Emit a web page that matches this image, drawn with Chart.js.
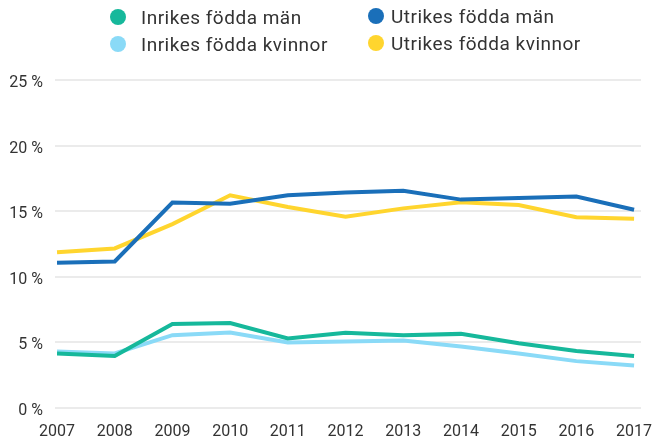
<!DOCTYPE html>
<html>
<head>
<meta charset="utf-8">
<script src="https://cdn.jsdelivr.net/npm/chart.js@4.4.1/dist/chart.umd.min.js"></script>
<style>
  html, body { margin: 0; padding: 0; background: #fff; }
  #wrap { position: relative; width: 658px; height: 436px; overflow: hidden; }
  #legend { position: absolute; left: 0; top: 0; width: 658px; height: 60px;
    font-family: Roboto, sans-serif; font-size: 19px; letter-spacing: 0.5px; color: #333; }
  .item { position: absolute; display: flex; align-items: center; white-space: nowrap; }
  .dot { width: 16px; height: 16px; border-radius: 50%; }
  canvas { position: absolute; left: 0; top: 0; }
</style>
</head>
<body>
<div id="wrap">
  <canvas id="c" width="658" height="436"></canvas>
  <div id="legend"></div>
</div>
<script>
const years = [2007, 2008, 2009, 2010, 2011, 2012, 2013, 2014, 2015, 2016, 2017];
const seriesLabels = ["Inrikes födda män", "Utrikes födda män", "Inrikes födda kvinnor", "Utrikes födda kvinnor"];
const inrikesMan = [4.12, 3.94, 6.38, 6.45, 5.27, 5.70, 5.52, 5.62, 4.91, 4.32, 3.94];
const utrikesMan = [11.05, 11.15, 15.65, 15.55, 16.2, 16.42, 16.55, 15.87, 16.0, 16.1, 15.1];
const inrikesKvinnor = [4.28, 4.12, 5.52, 5.72, 4.96, 5.04, 5.11, 4.66, 4.12, 3.54, 3.21];
const utrikesKvinnor = [11.86, 12.14, 14.0, 16.2, 15.3, 14.57, 15.2, 15.66, 15.46, 14.52, 14.4];
const yTicks = [0, 5, 10, 15, 20, 25];
const colors = ["#16B89B", "#1A6FB9", "#8ADAF7", "#FFD52E"];

const seriesValues = [inrikesMan, utrikesMan, inrikesKvinnor, utrikesKvinnor];
const datasets = seriesValues.map((vals, i) => ({
  label: seriesLabels[i],
  data: vals.map((v, j) => ({ x: years[j], y: v })),
  borderColor: colors[i],
  backgroundColor: colors[i],
  borderWidth: 4,
  pointRadius: 0,
  tension: 0,
  fill: false
}));
datasets[0].order = 1; datasets[2].order = 2; datasets[1].order = 3; datasets[3].order = 4;

const font = { family: "Roboto, sans-serif", size: 16, lineHeight: 1 };
new Chart(document.getElementById('c'), {
  type: 'line',
  data: { datasets },
  options: {
    responsive: false,
    animation: false,
    layout: { padding: { top: 80, right: 17, left: 0, bottom: 0 } },
    plugins: { legend: { display: false }, tooltip: { enabled: false } },
    scales: {
      x: {
        type: 'linear',
        min: 2006.965,
        max: 2017.12,
        afterBuildTicks: s => { s.ticks = years.map(v => ({ value: v })); },
        afterFit: s => { s.height = 28.5; s.paddingLeft = 0; s.paddingRight = 0; },
        ticks: { color: '#333', font, padding: 16.5, maxRotation: 0, autoSkip: false,
          callback: v => String(v) },
        grid: { display: false, drawTicks: false },
        border: { display: false }
      },
      y: {
        min: 0, max: 25,
        afterBuildTicks: s => { s.ticks = yTicks.map(v => ({ value: v })); },
        afterFit: s => { s.width = 55; s.paddingTop = 0; s.paddingBottom = 0; },
        ticks: { color: '#333', font, padding: 12, labelOffset: 3, callback: v => v + ' %' },
        grid: { color: '#EBEBEB', lineWidth: 2, drawTicks: false },
        border: { display: false }
      }
    }
  }
});

// [dot center x, dot center y, text left x]
const pos = [[118, 17, 141], [376, 16, 391], [118, 44, 141], [376, 43, 391]];
const legend = document.getElementById('legend');
seriesLabels.forEach((lab, i) => {
  const dot = document.createElement('span');
  dot.className = 'dot item';
  dot.style.background = colors[i];
  dot.style.left = (pos[i][0] - 8) + 'px';
  dot.style.top = (pos[i][1] - 8) + 'px';
  legend.appendChild(dot);
  const t = document.createElement('span');
  t.className = 'item';
  t.textContent = lab;
  t.style.left = pos[i][2] + 'px';
  t.style.top = (pos[i][1] - 12) + 'px';
  t.style.height = '24px';
  legend.appendChild(t);
});
</script>
</body>
</html>
